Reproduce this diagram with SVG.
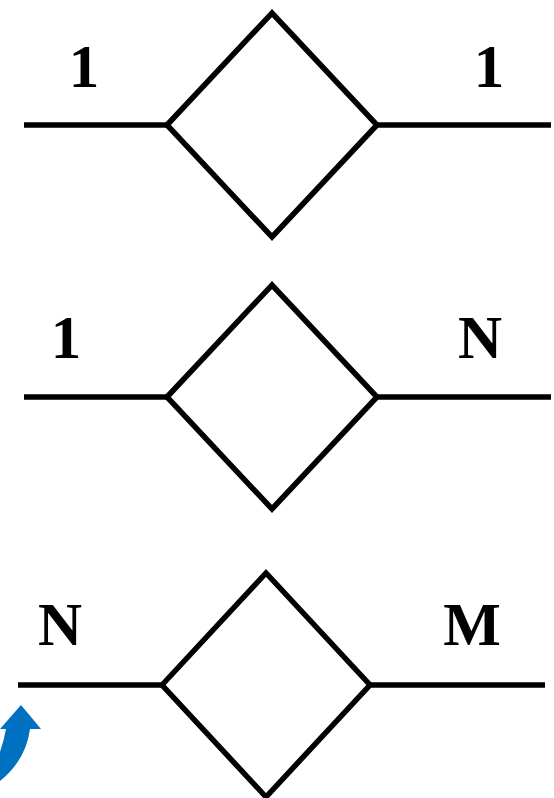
<svg xmlns="http://www.w3.org/2000/svg" width="554" height="798" viewBox="0 0 554 798">
<style>
.ln{stroke:#000;stroke-width:5.5;fill:none}
.dm{stroke:#000;stroke-width:5.5;fill:#fff;stroke-linejoin:miter}
.lb{font-family:"Liberation Serif","Times New Roman",serif;font-weight:bold;font-size:61px;fill:#000;text-anchor:middle}
</style>
<rect width="554" height="798" fill="#fff"/>
<g id="connectors">
<line class="ln" x1="24" y1="125" x2="167" y2="125"/>
<line class="ln" x1="377" y1="125" x2="551" y2="125"/>
<line class="ln" x1="24" y1="397" x2="167" y2="397"/>
<line class="ln" x1="377" y1="397" x2="551" y2="397"/>
<line class="ln" x1="18" y1="685" x2="162" y2="685"/>
<line class="ln" x1="370" y1="685" x2="545" y2="685"/>
</g>
<g id="rel1">
<polygon class="dm" points="167,125 272,13 377,125 272,237"/>
<text class="lb" x="84" y="87">1</text>
<text class="lb" x="489" y="87">1</text>
</g>
<g id="rel2">
<polygon class="dm" points="167,397 272,285 377,397 272,509"/>
<text class="lb" x="66" y="358">1</text>
<text class="lb" x="480" y="358">N</text>
</g>
<g id="rel3">
<polygon class="dm" points="162,685 266,573 370,685 266,797"/>
<text class="lb" x="60" y="645">N</text>
<text class="lb" x="472" y="645">M</text>
</g>
<g id="arrow">
<path fill="#0070C0" d="M0,729 L21,705 L41,729 L30,729 Q26,760 0,781 L0,752 Q4,740 6,729 Z"/>
</g>
</svg>
